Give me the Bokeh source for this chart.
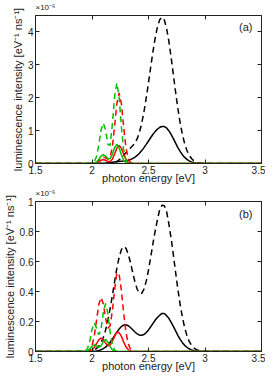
from bokeh.plotting import figure
from bokeh.layouts import column
from bokeh.models import LinearAxis, FixedTicker, Label, Range1d, CustomLabelingPolicy
from bokeh.embed import file_html
from bokeh.resources import INLINE

# photon energy grid [eV]
energy = [1.5,
          1.94, 1.96, 1.98, 2.00, 2.02, 2.04, 2.06, 2.08, 2.10, 2.12,
          2.14, 2.16, 2.18, 2.20, 2.22, 2.24, 2.26, 2.28, 2.30, 2.32,
          2.34, 2.36, 2.38, 2.40, 2.42, 2.44, 2.46, 2.48, 2.50, 2.52,
          2.54, 2.56, 2.58, 2.60, 2.62, 2.64, 2.66, 2.68, 2.70, 2.72,
          2.74, 2.76, 2.78, 2.80, 2.82, 2.84, 2.86, 2.88, 2.90, 2.92,
          2.94, 2.96, 2.98, 3.00,
          3.5]

# ---------- panel (a), units of 1e-6 eV^-1 ns^-1 ----------
a_black_dashed = [0,
    0, 0, 0, 0, 0, 0, 0, 0, 0, 0,
    0.002, 0.005, 0.015, 0.032, 0.062, 0.108, 0.173, 0.249, 0.33, 0.404,
    0.47, 0.538, 0.624, 0.754, 0.949, 1.222, 1.574, 1.992, 2.46, 2.946,
    3.416, 3.835, 4.165, 4.377, 4.45, 4.362, 4.107, 3.718, 3.232, 2.699,
    2.166, 1.67, 1.237, 0.88, 0.602, 0.395, 0.25, 0.152, 0.088, 0.049,
    0.027, 0.014, 0.007, 0.003,
    0]
a_black_solid = [0,
    0, 0, 0, 0, 0, 0.003, 0.005, 0.008, 0.01, 0.014,
    0.02, 0.028, 0.037, 0.046, 0.055, 0.062, 0.07, 0.077, 0.086, 0.10,
    0.121, 0.15, 0.191, 0.245, 0.312, 0.392, 0.482, 0.58, 0.685, 0.79,
    0.889, 0.977, 1.049, 1.10, 1.127, 1.124, 1.08, 0.997, 0.884, 0.754,
    0.617, 0.485, 0.367, 0.266, 0.185, 0.124, 0.08, 0.05, 0.03, 0.017,
    0.009, 0.005, 0.0025, 0.001,
    0]
a_red_dashed = [0,
    0, 0, 0, 0.002, 0.009, 0.034, 0.092, 0.165, 0.20, 0.17,
    0.13, 0.19, 0.50, 1.12, 1.825, 2.15, 1.825, 1.118, 0.495, 0.157,
    0.037, 0.006, 0.001, 0, 0, 0, 0, 0, 0, 0,
    0, 0, 0, 0, 0, 0, 0, 0, 0, 0,
    0, 0, 0, 0, 0, 0, 0, 0, 0, 0,
    0, 0, 0, 0,
    0]
a_red_solid = [0,
    0, 0, 0, 0.001, 0.005, 0.021, 0.055, 0.099, 0.12, 0.10,
    0.064, 0.061, 0.132, 0.287, 0.467, 0.55, 0.467, 0.286, 0.127, 0.04,
    0.009, 0.0015, 0, 0, 0, 0, 0, 0, 0, 0,
    0, 0, 0, 0, 0, 0, 0, 0, 0, 0,
    0, 0, 0, 0, 0, 0, 0, 0, 0, 0,
    0, 0, 0, 0,
    0]
a_green_dashed = [0,
    0, 0, 0.001, 0.009, 0.054, 0.212, 0.563, 1.012, 1.23, 1.03,
    0.58, 0.55, 1.18, 2.03, 2.45, 2.016, 1.122, 0.421, 0.108, 0.019,
    0.002, 0, 0, 0, 0, 0, 0, 0, 0, 0,
    0, 0, 0, 0, 0, 0, 0, 0, 0, 0,
    0, 0, 0, 0, 0, 0, 0, 0, 0, 0,
    0, 0, 0, 0,
    0]
a_green_solid = [0,
    0, 0, 0, 0.002, 0.012, 0.046, 0.124, 0.222, 0.27, 0.226,
    0.15, 0.146, 0.278, 0.479, 0.58, 0.477, 0.266, 0.10, 0.026, 0.004,
    0, 0, 0, 0, 0, 0, 0, 0, 0, 0,
    0, 0, 0, 0, 0, 0, 0, 0, 0, 0,
    0, 0, 0, 0, 0, 0, 0, 0, 0, 0,
    0, 0, 0, 0,
    0]

# ---------- panel (b), units of 1e-6 eV^-1 ns^-1 ----------
b_black_dashed = [0,
    0, 0.001, 0.003, 0.006, 0.011, 0.02, 0.035, 0.058, 0.093, 0.142,
    0.206, 0.284, 0.372, 0.466, 0.555, 0.628, 0.679, 0.70, 0.689, 0.651,
    0.594, 0.527, 0.464, 0.415, 0.388, 0.388, 0.416, 0.469, 0.543, 0.631,
    0.723, 0.808, 0.882, 0.95, 0.975, 0.972, 0.935, 0.851, 0.756, 0.644,
    0.527, 0.415, 0.313, 0.228, 0.159, 0.106, 0.068, 0.042, 0.025, 0.014,
    0.008, 0.004, 0.002, 0.001,
    0]
b_black_solid = [0,
    0, 0, 0.0005, 0.001, 0.002, 0.004, 0.007, 0.012, 0.019, 0.029,
    0.044, 0.062, 0.083, 0.106, 0.129, 0.15, 0.166, 0.176, 0.178, 0.172,
    0.16, 0.145, 0.13, 0.117, 0.109, 0.108, 0.113, 0.126, 0.144, 0.165,
    0.188, 0.21, 0.228, 0.242, 0.254, 0.253, 0.239, 0.221, 0.196, 0.167,
    0.137, 0.108, 0.081, 0.059, 0.041, 0.028, 0.018, 0.011, 0.0065, 0.004,
    0.002, 0.001, 0, 0,
    0]
b_red_dashed = [0,
    0, 0.002, 0.011, 0.039, 0.103, 0.207, 0.314, 0.361, 0.318, 0.224,
    0.156, 0.17, 0.27, 0.409, 0.525, 0.515, 0.407, 0.258, 0.131, 0.053,
    0.017, 0.004, 0.001, 0, 0, 0, 0, 0, 0, 0,
    0, 0, 0, 0, 0, 0, 0, 0, 0, 0,
    0, 0, 0, 0, 0, 0, 0, 0, 0, 0,
    0, 0, 0, 0,
    0]
b_red_solid = [0,
    0, 0.0006, 0.003, 0.01, 0.026, 0.052, 0.078, 0.09, 0.079, 0.056,
    0.039, 0.042, 0.067, 0.101, 0.128, 0.126, 0.101, 0.064, 0.032, 0.013,
    0.004, 0.001, 0, 0, 0, 0, 0, 0, 0, 0,
    0, 0, 0, 0, 0, 0, 0, 0, 0, 0,
    0, 0, 0, 0, 0, 0, 0, 0, 0, 0,
    0, 0, 0, 0,
    0]
b_green_dashed = [0,
    0.003, 0.019, 0.068, 0.147, 0.191, 0.156, 0.111, 0.151, 0.259, 0.32,
    0.256, 0.132, 0.043, 0.009, 0.001, 0, 0, 0, 0, 0,
    0, 0, 0, 0, 0, 0, 0, 0, 0, 0,
    0, 0, 0, 0, 0, 0, 0, 0, 0, 0,
    0, 0, 0, 0, 0, 0, 0, 0, 0, 0,
    0, 0, 0, 0,
    0]
b_green_solid = [0,
    0.0007, 0.0045, 0.016, 0.035, 0.045, 0.037, 0.027, 0.037, 0.065, 0.08,
    0.064, 0.033, 0.011, 0.002, 0, 0, 0, 0, 0, 0,
    0, 0, 0, 0, 0, 0, 0, 0, 0, 0,
    0, 0, 0, 0, 0, 0, 0, 0, 0, 0,
    0, 0, 0, 0, 0, 0, 0, 0, 0, 0,
    0, 0, 0, 0,
    0]

x_ticks = [1.5, 2, 2.5, 3, 3.5]
x_tick_labels = ["1.5", "2", "2.5", "3", "3.5"]
a_y_ticks = [0, 1, 2, 3, 4]
a_y_tick_labels = ["0", "1", "2", "3", "4"]
b_y_ticks = [0, 0.2, 0.4, 0.6, 0.8, 1.0]
b_y_tick_labels = ["0", "0.2", "0.4", "0.6", "0.8", "1"]

x_label = "photon energy [eV]"
y_label = "luminescence intensity [eV\u207b\u00b9 ns\u207b\u00b9]"
multiplier = "\u00d710\u207b\u2076"

BLACK = "#000000"
RED = "#ff0000"
GREEN = "#00c000"
FONT = "Liberation Sans"
INK = "#222222"


def style_axis(ax, ticks, labels, show_labels):
    ax.ticker = FixedTicker(ticks=ticks)
    ax.major_tick_in = 4
    ax.major_tick_out = 0
    ax.minor_tick_line_color = None
    ax.axis_line_color = INK
    ax.major_tick_line_color = INK
    if show_labels:
        ax.major_label_overrides = {t: l for t, l in zip(ticks, labels)}
        ax.major_label_text_font = FONT
        ax.major_label_text_color = INK
        ax.major_label_standoff = 2
        ax.major_label_text_font_size = "10px"
    else:
        ax.major_label_policy = CustomLabelingPolicy(code="return new Set()")
        ax.major_label_standoff = 0
        ax.major_label_text_font_size = "1px"


def panel(ymax, yticks, ylabels, series, tag, tag_y, height):
    p = figure(width=265, height=height,
               x_range=Range1d(1.5, 3.5), y_range=Range1d(0, ymax),
               output_backend="svg", toolbar_location=None,
               title=multiplier, title_location="above",
               min_border_left=0, min_border_right=0,
               min_border_top=0, min_border_bottom=0)
    p.title.align = "left"
    p.title.offset = 0
    p.title.standoff = 0
    p.title.text_font = FONT
    p.title.text_font_size = "8px"
    p.title.text_font_style = "normal"
    p.title.text_color = INK
    p.grid.visible = False
    p.outline_line_color = INK
    p.background_fill_color = "white"
    p.border_fill_color = "white"

    style_axis(p.xaxis[0], x_ticks, x_tick_labels, True)
    style_axis(p.yaxis[0], yticks, ylabels, True)
    p.xaxis[0].axis_label = x_label
    p.yaxis[0].axis_label = y_label
    for ax in (p.xaxis[0], p.yaxis[0]):
        ax.axis_label_text_font = FONT
        ax.axis_label_text_font_size = "11px"
        ax.axis_label_text_font_style = "normal"
        ax.axis_label_text_color = INK
    p.xaxis[0].axis_label_standoff = -5
    p.yaxis[0].axis_label_standoff = 1

    top = LinearAxis()
    style_axis(top, x_ticks, x_tick_labels, False)
    p.add_layout(top, "above")
    right = LinearAxis()
    style_axis(right, yticks, ylabels, False)
    p.add_layout(right, "right")

    for ys, color, dash in series:
        p.line(energy, ys, line_color=color, line_width=1.5, line_dash=dash)

    p.add_layout(Label(x=3.42, y=tag_y, text=tag, text_font=FONT,
                       text_font_size="11px", text_color=INK,
                       text_align="right", text_baseline="middle"))
    return p


pa = panel(4.5, a_y_ticks, a_y_tick_labels, [
    (a_black_solid, BLACK, "solid"),
    (a_black_dashed, BLACK, "6 4"),
    (a_red_solid, RED, "solid"),
    (a_red_dashed, RED, "6 4"),
    (a_green_solid, GREEN, "solid"),
    (a_green_dashed, GREEN, "6 4"),
], "(a)", 4.15, 186)

pb = panel(1.0, b_y_ticks, b_y_tick_labels, [
    (b_black_solid, BLACK, "solid"),
    (b_black_dashed, BLACK, "6 4"),
    (b_red_solid, RED, "solid"),
    (b_red_dashed, RED, "6 4"),
    (b_green_solid, GREEN, "solid"),
    (b_green_dashed, GREEN, "6 4"),
], "(b)", 0.92, 188)

layout = column(pa, pb, spacing=0)
open("out.html", "w").write(file_html(layout, INLINE))
